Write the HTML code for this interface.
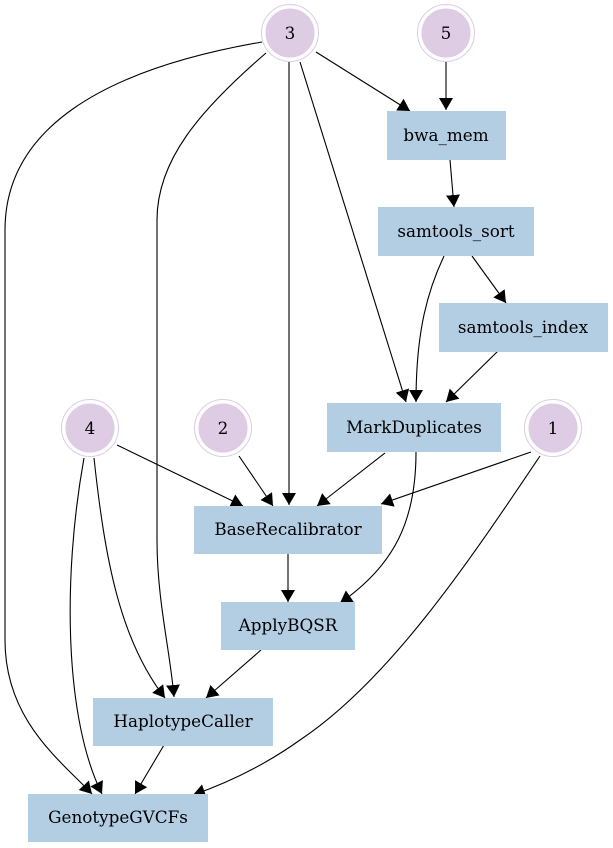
<!DOCTYPE html>
<html><head><meta charset="utf-8"><style>
html,body{margin:0;padding:0;background:#fff;}
svg{display:block;}
text{font-family:"DejaVu Serif",serif;font-size:16.8px;fill:#000;}
</style></head><body>
<svg width="613" height="848" viewBox="0 0 613 848" xmlns="http://www.w3.org/2000/svg">
<defs>
<marker id="a" markerUnits="userSpaceOnUse" markerWidth="13" markerHeight="14" refX="12" refY="7" orient="auto">
<path d="M0,0 L12,7 L0,14 z" fill="#000"/>
</marker>
</defs>
<g fill="none" stroke="#000" stroke-width="1.1" marker-end="url(#a)">
<path d="M316,52 L410,111"/>
<path d="M446,62 L446,110"/>
<path d="M450,160 L454,207"/>
<path d="M472,256 L506,303"/>
<path d="M444,256 C428,290 416,330 416,402"/>
<path d="M498,351 L446,402"/>
<path d="M300,62 L406,402"/>
<path d="M289,62 L289,505"/>
<path d="M266,53 C200,110 157,160 157,220 L157,540 C157,600 170,650 174,697"/>
<path d="M262,42 C100,70 5,130 5,230 L5,640 C5,720 60,760 92,794"/>
<path d="M117,445 L243,506"/>
<path d="M239,456 L273,506"/>
<path d="M385,453 L317,506"/>
<path d="M531,452 L381,504"/>
<path d="M540,456 C470,560 390,680 300,740 C265,765 230,782 193,795"/>
<path d="M416,452 C416,520 395,565 340,603"/>
<path d="M288,553 L288,602"/>
<path d="M261,650 L206,698"/>
<path d="M94,458 C105,560 120,640 165,698"/>
<path d="M84,458 C62,580 65,720 102,794"/>
<path d="M164,745 L135,794"/>
</g>
<g fill="#decbe4" stroke="#decbe4">
<circle cx="290" cy="33" r="28.5" fill="none"/>
<circle cx="290" cy="33" r="24"/>
<circle cx="446" cy="33" r="28.5" fill="none"/>
<circle cx="446" cy="33" r="24"/>
<circle cx="90" cy="428" r="28.5" fill="none"/>
<circle cx="90" cy="428" r="24"/>
<circle cx="223" cy="428" r="28.5" fill="none"/>
<circle cx="223" cy="428" r="24"/>
<circle cx="553" cy="428" r="28.5" fill="none"/>
<circle cx="553" cy="428" r="24"/>
</g>
<g fill="#b3cde3">
<rect x="387" y="111" width="119" height="49"/>
<rect x="378" y="207" width="156" height="49"/>
<rect x="439" y="303" width="169" height="49"/>
<rect x="327" y="403" width="174" height="49"/>
<rect x="194" y="506" width="188" height="48"/>
<rect x="221" y="602" width="134" height="48"/>
<rect x="93" y="698" width="180" height="48"/>
<rect x="28" y="794" width="180" height="48"/>
</g>
<g text-anchor="middle">
<text x="290" y="39">3</text>
<text x="446" y="39">5</text>
<text x="90" y="434">4</text>
<text x="223" y="434">2</text>
<text x="553" y="434">1</text>
<text x="446" y="141">bwa_mem</text>
<text x="456" y="237">samtools_sort</text>
<text x="523" y="333">samtools_index</text>
<text x="414" y="433">MarkDuplicates</text>
<text x="288" y="535">BaseRecalibrator</text>
<text x="288" y="631">ApplyBQSR</text>
<text x="183" y="727">HaplotypeCaller</text>
<text x="118" y="823">GenotypeGVCFs</text>
</g>
</svg>
</body></html>
